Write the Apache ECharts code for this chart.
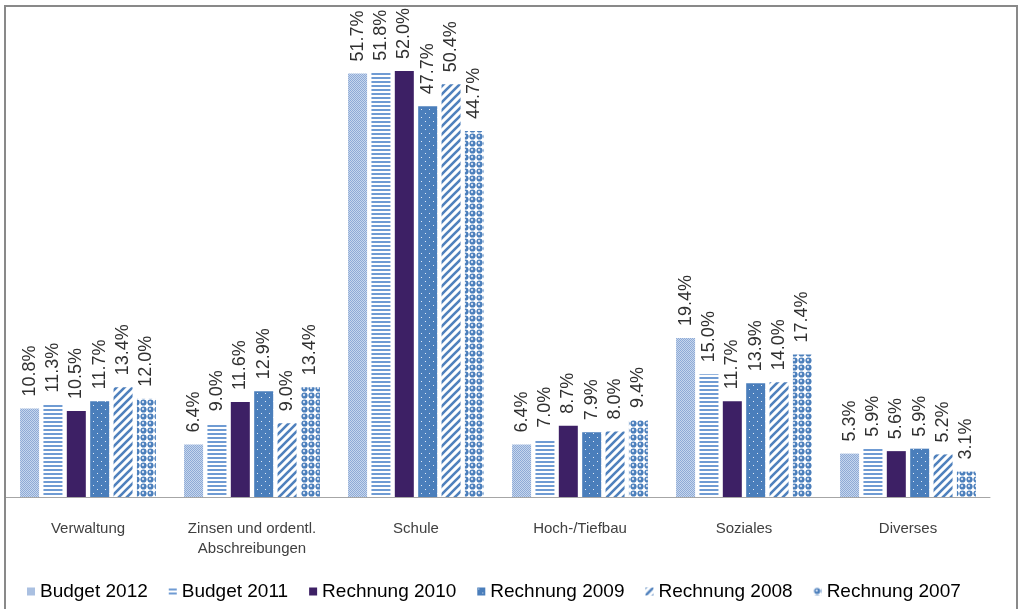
<!DOCTYPE html>
<html>
<head>
<meta charset="utf-8">
<script src="https://cdn.jsdelivr.net/npm/echarts@6/dist/echarts.min.js"></script>
<style>
html,body{margin:0;padding:0;background:#fff;}
#chart{width:1021px;height:609px;}
</style>
</head>
<body>
<div id="chart"></div>
<script>
const categories = ['Verwaltung', 'Zinsen und ordentl.\nAbschreibungen', 'Schule', 'Hoch-/Tiefbau', 'Soziales', 'Diverses'];
const seriesNames = ['Budget 2012', 'Budget 2011', 'Rechnung 2010', 'Rechnung 2009', 'Rechnung 2008', 'Rechnung 2007'];
const budget2012 = [10.8, 6.4, 51.7, 6.4, 19.4, 5.3];
const budget2011 = [11.3, 9.0, 51.8, 7.0, 15.0, 5.9];
const rechnung2010 = [10.5, 11.6, 52.0, 8.7, 11.7, 5.6];
const rechnung2009 = [11.7, 12.9, 47.7, 7.9, 13.9, 5.9];
const rechnung2008 = [13.4, 9.0, 50.4, 8.0, 14.0, 5.2];
const rechnung2007 = [12.0, 13.4, 44.7, 9.4, 17.4, 3.1];
const seriesValues = [budget2012, budget2011, rechnung2010, rechnung2009, rechnung2008, rechnung2007];

function pat(w, h, draw) {
  const c = document.createElement('canvas');
  c.width = w; c.height = h;
  const g = c.getContext('2d');
  draw(g, w, h);
  return { image: c, repeat: 'repeat' };
}
const fills = [
  pat(4, 4, (g) => {
    g.fillStyle = '#c6d6ed'; g.fillRect(0, 0, 4, 4);
    g.fillStyle = '#8eaad6';
    for (let y = 0; y < 4; y++) for (let x = 0; x < 4; x++) if ((x + y) % 2 === 0) g.fillRect(x, y, 1, 1);
  }),
  pat(8, 8, (g) => {
    g.fillStyle = '#ffffff'; g.fillRect(0, 0, 8, 8);
    g.fillStyle = '#6f9bd3'; g.fillRect(0, 1, 8, 2); g.fillRect(0, 5, 8, 2);
  }),
  '#3d2065',
  pat(8, 8, (g) => {
    g.fillStyle = '#4a7ebb'; g.fillRect(0, 0, 8, 8);
    g.fillStyle = '#e2eaf5'; g.fillRect(1, 1, 1, 1); g.fillRect(5, 5, 1, 1);
  }),
  pat(8, 8, (g) => {
    g.fillStyle = '#ffffff'; g.fillRect(0, 0, 8, 8);
    g.strokeStyle = '#4f81bd'; g.lineWidth = 2.6;
    g.beginPath();
    g.moveTo(-1, 9); g.lineTo(9, -1);
    g.moveTo(-5, 5); g.lineTo(5, -5);
    g.moveTo(3, 13); g.lineTo(13, 3);
    g.stroke();
  }),
  pat(7, 7, (g) => {
    g.fillStyle = '#ffffff'; g.fillRect(0, 0, 7, 7);
    g.fillStyle = '#4a7ebb';
    g.beginPath(); g.arc(3.5, 3.5, 3.1, 0, Math.PI * 2); g.fill();
    g.fillStyle = '#d3dff1';
    g.beginPath(); g.arc(3.0, 3.0, 1.2, 0, Math.PI * 2); g.fill();
  })
];

const chart = echarts.init(document.getElementById('chart'), null, { renderer: 'canvas' });
const option = {
  animation: false,
  backgroundColor: '#ffffff',
  textStyle: { fontFamily: 'Liberation Sans, Arial, sans-serif' },
  graphic: [{
    type: 'rect', silent: true, z: 100,
    shape: { x: 5, y: 6, width: 1012, height: 660 },
    style: { fill: 'none', stroke: '#898989', lineWidth: 2 }
  }],
  legend: {
    data: seriesNames,
    left: 22, top: 577,
    itemWidth: 8, itemHeight: 8, itemGap: 21,
    icon: 'rect',
    textStyle: { fontSize: 19, color: '#000000', fontFamily: 'Liberation Sans, Arial, sans-serif' }
  },
  grid: { left: 6, right: 31, top: 5.6, bottom: 112, containLabel: false },
  xAxis: {
    type: 'category',
    data: categories,
    axisLine: { lineStyle: { color: '#a6a6a6', width: 1 } },
    axisTick: { show: false },
    axisLabel: { color: '#404040', fontSize: 15, margin: 22, lineHeight: 20, interval: 0 }
  },
  yAxis: {
    type: 'value', min: 0, max: 60, show: false,
    splitLine: { show: false }
  },
  series: seriesNames.map((name, i) => ({
    name: name,
    type: 'bar',
    data: seriesValues[i],
    barWidth: 19,
    barGap: '23%',
    itemStyle: { color: fills[i] },
    label: {
      show: true,
      position: 'top',
      rotate: 90,
      align: 'left',
      verticalAlign: 'middle',
      distance: 12,
      fontSize: 18,
      color: '#303030',
      formatter: (p) => p.value.toFixed(1) + '%'
    }
  }))
};
chart.setOption(option);
</script>
</body>
</html>
